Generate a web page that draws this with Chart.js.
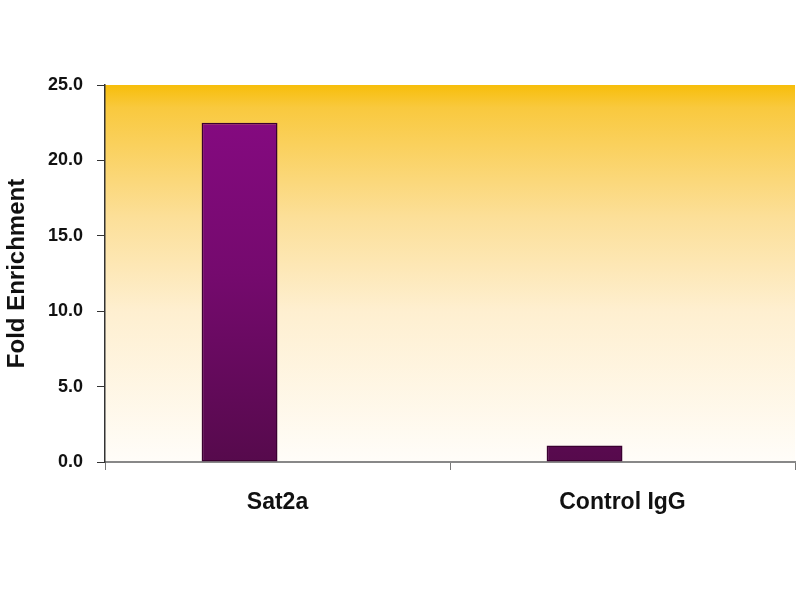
<!DOCTYPE html>
<html>
<head>
<meta charset="utf-8">
<script src="https://cdn.jsdelivr.net/npm/chart.js@4"></script>
<style>
html,body{margin:0;padding:0;background:#fff;}
#wrap{width:800px;height:600px;}
</style>
</head>
<body>
<div id="wrap"><canvas id="c" width="800" height="600"></canvas></div>
<script>
const categories = ["Sat2a", "Control IgG"];
const foldEnrichment = [22.5, 1.1];
const emptySeries = [null, null];
const yTicks = [0, 5, 10, 15, 20, 25];

const sans = "'Liberation Sans', Arial, sans-serif";

const bgPlugin = {
  id: 'bg',
  beforeDraw(chart) {
    const {ctx, chartArea: a} = chart;
    ctx.save();
    ctx.fillStyle = '#ffffff';
    ctx.fillRect(0, 0, chart.width, chart.height);
    const g = ctx.createLinearGradient(0, a.top, 0, a.bottom);
    g.addColorStop(0, '#f7be0a');
    g.addColorStop(0.06, '#f9c93e');
    g.addColorStop(0.35, '#fcdf98');
    g.addColorStop(0.6, '#feefd0');
    g.addColorStop(1, '#fffdf9');
    ctx.fillStyle = g;
    ctx.fillRect(a.left, a.top, a.right - a.left, a.bottom - a.top);
    ctx.restore();
  }
};

function barGradient(context) {
  const chart = context.chart;
  const a = chart.chartArea;
  if (!a) return '#800080';
  const g = chart.ctx.createLinearGradient(0, a.top, 0, a.bottom);
  g.addColorStop(0, '#880a84');
  g.addColorStop(0.5, '#750a6e');
  g.addColorStop(1, '#560a4c');
  return g;
}

new Chart(document.getElementById('c'), {
  type: 'bar',
  data: {
    labels: categories,
    datasets: [
      {
        data: foldEnrichment,
        backgroundColor: barGradient,
        borderColor: '#3a0030',
        borderWidth: 1.5,
        borderSkipped: false,
        categoryPercentage: 0.44,
        barPercentage: 1.0
      },
      {
        data: emptySeries,
        backgroundColor: 'rgba(0,0,0,0)',
        categoryPercentage: 0.44,
        barPercentage: 1.0
      }
    ]
  },
  options: {
    responsive: false,
    animation: false,
    devicePixelRatio: 1,
    layout: { padding: { top: 85, right: 5, left: 0, bottom: 0 } },
    plugins: { legend: { display: false }, tooltip: { enabled: false } },
    scales: {
      x: {
        grid: {
          display: true,
          drawOnChartArea: false,
          drawTicks: true,
          tickLength: 8,
          color: '#777777',
          offset: true
        },
        border: { display: true, color: '#888888', width: 2 },
        ticks: {
          color: '#111111',
          padding: 19,
          font: { family: sans, size: 23, weight: 'bold' }
        },
        afterFit(scale) { scale.height = 138; }
      },
      y: {
        min: 0,
        max: 25,
        afterBuildTicks(scale) { scale.ticks = yTicks.map(v => ({ value: v })); },
        grid: {
          display: true,
          drawOnChartArea: false,
          drawTicks: true,
          tickLength: 8,
          color: '#333333'
        },
        border: { display: true, color: '#333333', width: 1.5 },
        ticks: {
          color: '#111111',
          padding: 14,
          callback: v => Number(v).toFixed(1),
          font: { family: sans, size: 18, weight: 'bold' }
        },
        title: {
          display: true,
          text: 'Fold Enrichment',
          color: '#111111',
          padding: { top: 3, bottom: 20 },
          font: { family: sans, size: 24, weight: 'bold' }
        },
        afterFit(scale) { scale.width = 105; }
      }
    }
  },
  plugins: [bgPlugin]
});
</script>
</body>
</html>
